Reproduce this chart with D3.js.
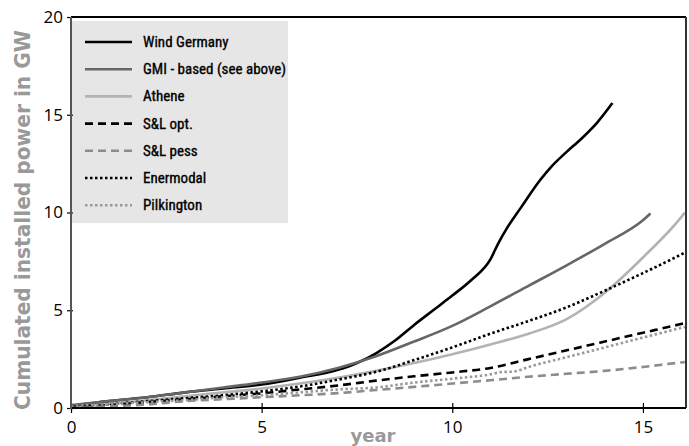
<!DOCTYPE html>
<html><head><meta charset="utf-8">
<script src="https://cdn.jsdelivr.net/npm/d3@7"></script>
<style>body{margin:0;background:#fff}svg{display:block}</style>
</head><body>
<script>
const seriesNames = ["Wind Germany","GMI - based (see above)","Athene","S&L opt.","S&L pess","Enermodal","Pilkington"];
const windGermany = [[0,0.1],[1,0.35],[2,0.55],[3,0.8],[4,1.0],[5,1.2],[6,1.55],[7,1.95],[7.5,2.3],[8,2.8],[8.5,3.45],[9,4.25],[9.5,5.0],[10,5.75],[10.5,6.55],[11,7.6],[11.2,8.4],[11.45,9.25],[11.8,10.25],[12.3,11.65],[12.6,12.35],[13.0,13.1],[13.4,13.8],[13.8,14.6],[14.2,15.6]];
const gmi = [[0,0.15],[1,0.35],[2,0.55],[3,0.8],[4,1.05],[5,1.3],[6,1.6],[7,2.05],[8,2.65],[9,3.4],[10,4.2],[11,5.2],[12,6.25],[13,7.3],[14,8.4],[15,9.6],[15.2,9.95]];
const athene = [[0,0.0],[1,0.2],[2,0.4],[3,0.6],[4,0.8],[5,1.0],[6,1.25],[7,1.55],[8,1.9],[9,2.3],[10,2.75],[11,3.25],[12,3.8],[13,4.55],[14,5.9],[15,7.7],[16,9.75],[16.1,10.0]];
const slOpt = [[0,0.05],[1,0.15],[2,0.3],[3,0.45],[4,0.6],[5,0.75],[6,0.95],[7,1.15],[8,1.4],[9,1.62],[10,1.82],[11,2.05],[12,2.5],[13,2.95],[14,3.4],[15,3.85],[16,4.3],[16.1,4.35]];
const slPess = [[0,0.0],[1,0.08],[2,0.18],[3,0.35],[4,0.45],[5,0.55],[6,0.65],[7,0.76],[8,0.92],[9,1.08],[10,1.25],[11,1.42],[12,1.6],[13,1.75],[14,1.9],[15,2.1],[16,2.33],[16.1,2.35]];
const enermodal = [[0,0.1],[1,0.2],[2,0.35],[3,0.5],[4,0.65],[5,0.85],[6,1.1],[7,1.45],[8,1.85],[9,2.45],[10,3.1],[11,3.8],[12,4.45],[13,5.15],[14,6.0],[15,6.9],[16,7.85],[16.1,7.95]];
const pilkington = [[0,0.1],[1,0.2],[2,0.3],[3,0.4],[4,0.55],[5,0.65],[6,0.8],[7,0.95],[8,1.05],[9,1.3],[10,1.5],[11,1.72],[11.3,1.84],[11.6,1.86],[12,2.1],[13,2.6],[14,3.1],[15,3.6],[16,4.1],[16.1,4.15]];
const xTicks = [0,5,10,15];
const yTicks = [0,5,10,15,20];

const seriesData = [windGermany,gmi,athene,slOpt,slPess,enermodal,pilkington];
const styles = [
  {c:"#000", d:null},
  {c:"#666", d:null},
  {c:"#b3b3b3", d:null},
  {c:"#000", d:"8,5"},
  {c:"#8c8c8c", d:"8,5"},
  {c:"#000", d:"2.5,2.5"},
  {c:"#999", d:"2.5,2.5"}
];

const W=689,H=446;
const svg=d3.select("body").append("svg").attr("width",W).attr("height",H);
const x=d3.scaleLinear().domain([0,16.13]).range([71,686]);
const y=d3.scaleLinear().domain([0,20]).range([408,17]);

svg.append("rect").attr("x",72).attr("y",21).attr("width",216).attr("height",202).attr("fill","#e6e6e6");

const line=d3.line().x(d=>x(d[0])).y(d=>y(d[1])).curve(d3.curveMonotoneX);
const defs=svg.append("defs");
defs.append("clipPath").attr("id","clip").append("rect").attr("x",71).attr("y",17).attr("width",615).attr("height",393);
const g=svg.append("g").attr("clip-path","url(#clip)");
seriesData.forEach((s,i)=>{
  g.append("path").attr("d",line(s)).attr("fill","none").attr("stroke",styles[i].c)
   .attr("stroke-width",2.6).attr("stroke-dasharray",styles[i].d);
});

svg.append("line").attr("x1",71).attr("x2",686).attr("y1",17).attr("y2",17).attr("stroke","#000").attr("stroke-width",2);
svg.append("line").attr("x1",686).attr("x2",686).attr("y1",17).attr("y2",408).attr("stroke","#333").attr("stroke-width",2);

const xAxis=svg.append("g").attr("transform","translate(0,408)")
  .call(d3.axisBottom(x).tickValues(xTicks).tickSize(5).tickPadding(6).tickFormat(d3.format("d")));
xAxis.select(".domain").remove();
xAxis.append("line").attr("x1",71).attr("x2",686).attr("stroke","#000").attr("stroke-width",2);
xAxis.selectAll(".tick line").attr("y1",-5).attr("y2",5).attr("stroke","#000").attr("stroke-width",1.2);
xAxis.selectAll(".tick text").attr("font-family","'Open Sans',sans-serif").attr("font-size",17).attr("fill","#000").attr("dy","0.85em");

const yAxis=svg.append("g").attr("transform","translate(71,0)")
  .call(d3.axisLeft(y).tickValues(yTicks).tickSize(4).tickPadding(4).tickFormat(d3.format("d")));
yAxis.select(".domain").remove();
yAxis.append("line").attr("y1",17).attr("y2",409).attr("stroke","#555").attr("stroke-width",2);
yAxis.selectAll(".tick line").attr("x1",-4).attr("x2",2).attr("stroke","#000").attr("stroke-width",1.2);
yAxis.selectAll(".tick text").attr("font-family","'Open Sans',sans-serif").attr("font-size",17).attr("fill","#000");

svg.append("text").attr("x",373).attr("y",442).attr("text-anchor","middle")
  .attr("font-family","'DejaVu Sans',sans-serif").attr("font-weight","bold").attr("font-size",18).attr("fill","#999").text("year");
svg.append("text").attr("transform","translate(30,220) rotate(-90)").attr("text-anchor","middle")
  .attr("font-family","'DejaVu Sans',sans-serif").attr("font-weight","bold").attr("font-size",20.5).attr("fill","#999")
  .attr("textLength",380).attr("lengthAdjust","spacingAndGlyphs")
  .text("Cumulated installed power in GW");

const lg=svg.append("g");
seriesNames.forEach((n,i)=>{
  const yy=42+i*27.2;
  lg.append("line").attr("x1",85).attr("x2",132).attr("y1",yy).attr("y2",yy)
    .attr("stroke",styles[i].c).attr("stroke-width",2.6).attr("stroke-dasharray",styles[i].d);
  lg.append("text").attr("x",143).attr("y",yy+5).attr("font-family","'Liberation Sans Narrow','Roboto Condensed',sans-serif")
    .attr("font-size",15).attr("fill","#000").attr("stroke","#000").attr("stroke-width",0.35).text(n);
});
</script>
</body></html>
